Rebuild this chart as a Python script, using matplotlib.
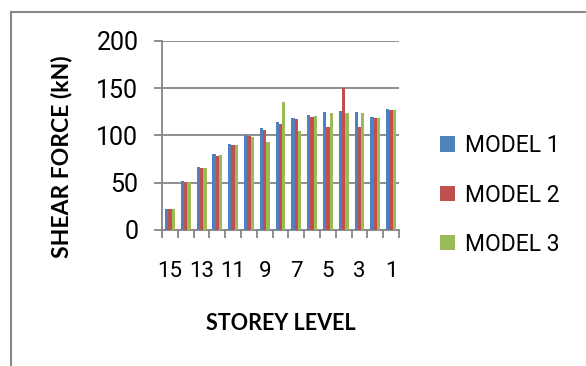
import matplotlib.pyplot as plt
import numpy as np

plt.rcParams['font.family'] = ['Roboto', 'DejaVu Sans']

storeys = [15, 14, 13, 12, 11, 10, 9, 8, 7, 6, 5, 4, 3, 2, 1]
model1 = [22, 52, 66.5, 80, 91, 100, 108, 114, 118.5, 121.5, 124.5, 125.5, 124.5, 120, 128.5]
model2 = [22, 51, 66, 78.5, 89.5, 99, 106, 112, 117, 120, 109, 150, 109, 118.5, 127]
model3 = [22, 51, 66, 79, 90, 98.5, 93.5, 135.5, 104.5, 120.5, 124, 124, 124, 119, 127.5]
tick_labels = ['15', '13', '11', '9', '7', '5', '3', '1']

colors = ['#4F81BD', '#C0504D', '#9BBB59']
grid_col = '#868686'

fig = plt.figure(figsize=(5.86, 3.66), dpi=100)
ax = fig.add_axes([0.2765, 0.3716, 0.4044, 0.5164])

x = np.arange(len(storeys))
w = 0.21
for i, (vals, name) in enumerate(zip([model1, model2, model3], ['MODEL 1', 'MODEL 2', 'MODEL 3'])):
    ax.bar(x + (i - 1) * w, vals, w, color=colors[i], label=name, zorder=3)

ax.set_xlim(-0.5, len(storeys) - 0.5)
ax.set_ylim(0, 200)
ax.set_yticks([0, 50, 100, 150, 200])
ax.yaxis.grid(True, color=grid_col, linewidth=1.3, zorder=0)
ax.set_axisbelow(True)

# ticks on category boundaries, labels on every other category
ax.set_xticks(np.arange(-0.5, len(storeys), 1))
ax.set_xticklabels([])
ax.set_xticks(x[::2], minor=True)
ax.set_xticklabels(tick_labels, minor=True)
ax.tick_params(axis='x', which='major', length=6, color=grid_col, width=1.3, direction='out')
ax.tick_params(axis='x', which='minor', length=0, pad=22, labelsize=16)
ax.tick_params(axis='y', length=6, color=grid_col, width=1.3, pad=11, labelsize=18)

for s in ['top', 'right']:
    ax.spines[s].set_visible(False)
for s in ['left', 'bottom']:
    ax.spines[s].set_color(grid_col)
    ax.spines[s].set_linewidth(1.3)

title_font = ['Lato', 'DejaVu Sans']
fig.text(61 / 586, 1 - 157 / 366, 'SHEAR FORCE (kN)', rotation=90, ha='center', va='center',
         fontsize=16.5, fontweight='bold', family=title_font)
fig.text(281 / 586, 1 - 324 / 366, 'STOREY LEVEL', ha='center', va='center',
         fontsize=15.5, fontweight='bold', family=title_font)

ax.legend(loc='center left', bbox_to_anchor=(1.172, 0.185), frameon=False, fontsize=16.5,
          handlelength=0.65, handleheight=0.65, handletextpad=0.45, labelspacing=1.15,
          borderaxespad=0, borderpad=0)

# chart area border (left and top edges visible)
fig.add_artist(plt.Line2D([11 / 586, 11 / 586], [0, 1 - 12 / 366], transform=fig.transFigure,
                          color='#878787', linewidth=1.5))
fig.add_artist(plt.Line2D([11 / 586, 1], [1 - 12 / 366, 1 - 12 / 366], transform=fig.transFigure,
                          color='#878787', linewidth=1.5))

fig.savefig('out.png', dpi=100)
